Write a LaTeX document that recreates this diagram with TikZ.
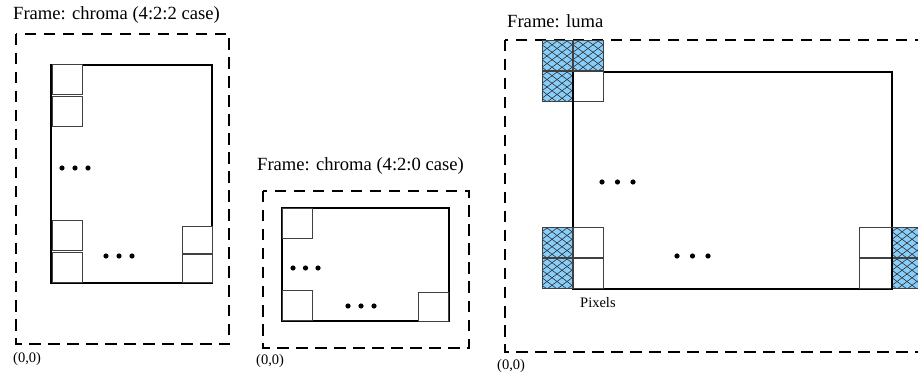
\documentclass[tikz,border=0pt]{standalone}
\usepackage{fontspec}
\setmainfont{Liberation Serif}
\begin{document}
\begin{tikzpicture}[x=1pt,y=-1pt,
  title/.style={anchor=base west,inner sep=0pt,font=\fontsize{18.6}{22}\selectfont},
  small/.style={anchor=base west,inner sep=0pt,font=\fontsize{14.5}{17}\selectfont},
  frame/.style={draw=black,line width=2.3pt,dash pattern=on 11.5pt off 7.5pt},
  area/.style={draw=black,line width=1.1pt},
  pix/.style={draw=black!75,line width=1pt,minimum width=30pt,minimum height=30pt,inner sep=0pt,fill=white},
  hatch/.style={pix,fill=skyblue,
    path picture={\foreach \k in {-9,...,9}{
      \draw[hatchline] ([shift={(-25,\k*7.5-18.75)}]path picture bounding box.center) -- ++(50,37.5);
      \draw[hatchline] ([shift={(-25,\k*7.5+18.75)}]path picture bounding box.center) -- ++(50,-37.5);}}},
  hatchline/.style={draw=black!80,line width=0.6pt},
  dot/.style={circle,fill=black,inner sep=0pt,minimum size=5.2pt}]
\definecolor{skyblue}{RGB}{135,206,250}
\useasboundingbox (0,0) rectangle (918,379);
\clip (0,0) rectangle (918,379);

% ---------- left panel: chroma 4:2:2 ----------
\node[title] (t1) at (13,20) {Frame: chroma (4:2:2 case)};
\draw[frame] (16,34) rectangle (229,344);
\draw[area] (51,65) rectangle (212,283);
\node[pix] (a1) at (67,80) {};
\node[pix] (a2) at (67,112) {};
\node[pix] (a3) at (67,236) {};
\node[pix] (a4) at (67,268) {};
\node[pix,minimum height=27pt] (a5) at (197,240.5) {};
\node[pix,minimum height=28pt] (a6) at (197,269) {};
\node[dot] (ad1) at (62,168) {};
\node[dot] (ad2) at (75,168) {};
\node[dot] (ad3) at (88,168) {};
\node[dot] (ad4) at (106,256) {};
\node[dot] (ad5) at (119,256) {};
\node[dot] (ad6) at (132,256) {};
\node[small] (o1) at (13,362) {(0,0)};

% ---------- middle panel: chroma 4:2:0 ----------
\node[title] (t2) at (257,171) {Frame: chroma (4:2:0 case)};
\draw[frame] (263,191) rectangle (469,348);
\draw[area] (282,208) rectangle (449,321);
\node[pix] (b1) at (297.5,223.5) {};
\node[pix] (b2) at (297.5,305.5) {};
\node[pix,minimum height=28pt] (b3) at (433,307) {};
\node[dot] (bd1) at (293,268) {};
\node[dot] (bd2) at (305.5,268) {};
\node[dot] (bd3) at (318,268) {};
\node[dot] (bd4) at (348,306) {};
\node[dot] (bd5) at (361,306) {};
\node[dot] (bd6) at (374,306) {};
\node[small] (o2) at (256,364) {(0,0)};

% ---------- right panel: luma ----------
\node[title] (t3) at (507,28) {Frame: luma};
\draw[frame] (505,40) rectangle (945,352);
\draw[area] (573,72) rectangle (892,289);
\node[hatch] (c1) at (557,56) {};
\node[hatch] (c2) at (588,56) {};
\node[hatch] (c3) at (557,87) {};
\node[pix] (c4) at (588,87) {};
\node[hatch] (c5) at (557,243) {};
\node[hatch] (c6) at (557,274) {};
\node[pix] (c7) at (588,243) {};
\node[pix] (c8) at (588,274) {};
\node[pix,minimum width=33pt] (c9) at (875.5,243) {};
\node[pix,minimum width=33pt] (c10) at (875.5,274) {};
\node[hatch] (c11) at (907,243) {};
\node[hatch] (c12) at (907,274) {};
\draw[area] (573,72) -- (573,102) (892,228) -- (892,289);
\node[dot] (cd1) at (602,182) {};
\node[dot] (cd2) at (617.5,182) {};
\node[dot] (cd3) at (633,182) {};
\node[dot] (cd4) at (677,256) {};
\node[dot] (cd5) at (692.5,256) {};
\node[dot] (cd6) at (708,256) {};
\node[small] (px) at (580,307.5) {Pixels};
\node[small] (o3) at (497,369) {(0,0)};
\end{tikzpicture}
\end{document}
